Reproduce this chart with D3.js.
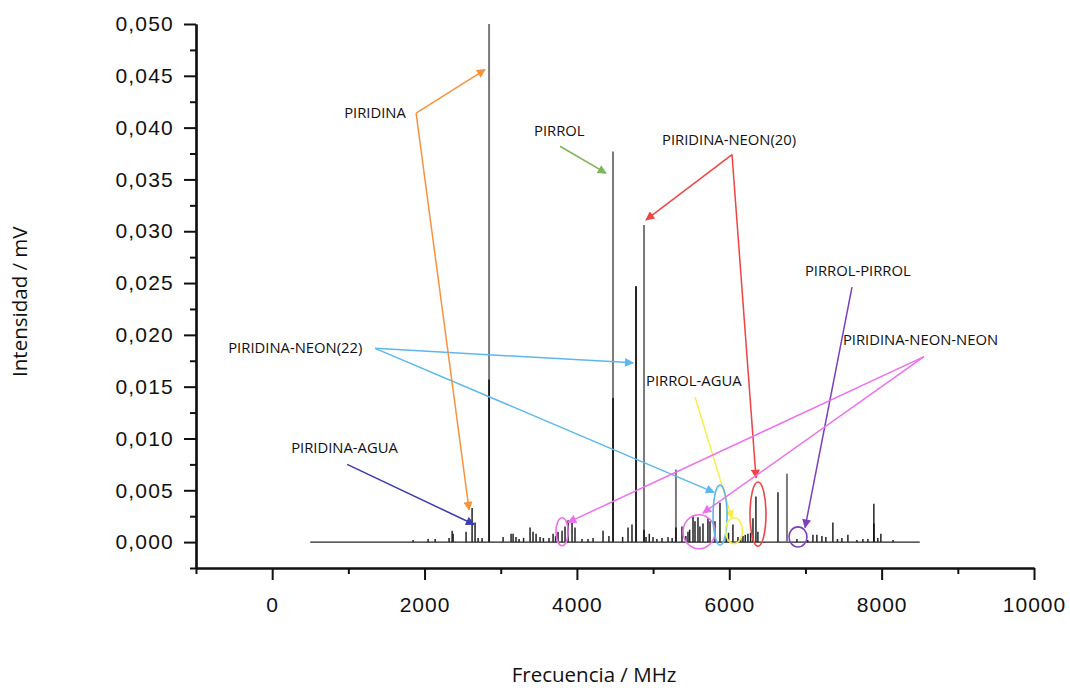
<!DOCTYPE html>
<html lang="es">
<head>
<meta charset="UTF-8">
<title>Espectro</title>
<style>
  body { margin: 0; background: #fff; }
  .tick-label { font-family: "Liberation Sans", Arial, sans-serif; font-size: 21px; fill: #111; }
  .axis-title { font-family: "Open Sans", sans-serif; font-size: 20.5px; fill: #111; }
  .note { font-family: "Open Sans", sans-serif; font-size: 14.8px; fill: #111; }
</style>
</head>
<body>
<svg id="chart" width="1070" height="691"></svg>
<script src="https://d3js.org/d3.v7.min.js"></script>
<script>
// stick spectrum: frequency (MHz) and intensity (mV)
const peakFreq = [1850, 2047, 2139, 2322, 2362, 2375, 2545, 2624, 2663, 2703, 2755, 2847,
  3031, 3136, 3162, 3200, 3241, 3300, 3385, 3424, 3464, 3516, 3560, 3634, 3687, 3720, 3752, 3805, 3844, 3884, 3936, 3975,
  4067, 4146, 4212, 4343, 4420, 4474, 4600, 4671, 4723, 4776, 4881, 4907, 4950, 4999, 5050, 5117, 5196, 5250, 5300, 5379, 5430, 5458, 5480,
  5524, 5550, 5589, 5615, 5655, 5720, 5747, 5812, 5878, 5960, 5990, 6048, 6114, 6150, 6180, 6210, 6245, 6280, 6311, 6350, 6376,
  6639, 6757, 6888, 7030, 7098, 7150, 7216, 7268, 7360, 7420, 7478, 7557, 7675, 7754, 7820, 7898, 7950, 7990, 8150];
const peakInt = [0.0002, 0.0003, 0.0003, 0.0004, 0.0011, 0.0008, 0.0010, 0.0033, 0.0019, 0.0004, 0.0004, 0.0500,
  0.0005, 0.0008, 0.0008, 0.0005, 0.0003, 0.0004, 0.0014, 0.0010, 0.0008, 0.0005, 0.0004, 0.0004, 0.0008, 0.0006, 0.0010, 0.0011, 0.0015, 0.0021, 0.0019, 0.0014,
  0.0003, 0.0003, 0.0004, 0.0011, 0.0006, 0.0377, 0.0005, 0.0014, 0.0017, 0.0247, 0.0306, 0.0005, 0.0008, 0.0005, 0.0003, 0.0004, 0.0005, 0.0004, 0.0070, 0.0015, 0.0006, 0.0010, 0.0012,
  0.0025, 0.0020, 0.0024, 0.0015, 0.0018, 0.0023, 0.0020, 0.0020, 0.0038, 0.0006, 0.0009, 0.0017, 0.0005, 0.0004, 0.0006, 0.0007, 0.0008, 0.0009, 0.0023, 0.0044, 0.0010,
  0.0048, 0.0066, 0.0003, 0.0002, 0.0007, 0.0007, 0.0006, 0.0005, 0.0019, 0.0003, 0.0004, 0.0007, 0.0002, 0.0003, 0.0003, 0.0037, 0.0004, 0.0008, 0.0002];

// darker inner trace on the strong lines
const darkFreq = [2847, 4474, 4776, 4881, 5300, 7898];
const darkInt = [0.0157, 0.0139, 0.0247, 0.0012, 0.0014, 0.0018];

const baseRange = [500, 8500];

const xTicks = [0, 2000, 4000, 6000, 8000, 10000];
const xMinor = [-1000, 1000, 3000, 5000, 7000, 9000];
const yTicks = d3.range(0, 0.0501, 0.005);
const yMinor = d3.range(-0.0025, 0.05, 0.005);

// annotations (data coordinates)
const noteText = ["PIRIDINA", "PIRROL", "PIRIDINA-NEON(20)", "PIRROL-PIRROL", "PIRIDINA-NEON-NEON",
  "PIRIDINA-NEON(22)", "PIRROL-AGUA", "PIRIDINA-AGUA"];
const noteFreq = [945, 3437, 5117, 6993, 7492, -577, 4907, 249];
const noteInt = [0.0413, 0.0396, 0.0387, 0.0261, 0.0194, 0.0186, 0.0154, 0.0090];

const arrowColor = ["#f7933f", "#7cb557", "#ee4444", "#ee4444", "#5cb8ec", "#5cb8ec",
  "#f5f04a", "#7b3fc0", "#ee6fee", "#ee6fee", "#3b3bb2", "#f7933f"];
const arrowFrom = [[1889, 0.0414], [3779, 0.0382], [6036, 0.0374], [6036, 0.0374], [1351, 0.0187], [1351, 0.0187],
  [5551, 0.0140], [7611, 0.0246], [8556, 0.0179], [8556, 0.0179], [984, 0.0075], [1889, 0.0414]];
const arrowTo = [[2795, 0.0456], [4382, 0.0356], [4907, 0.0311], [6351, 0.0062], [4737, 0.0173], [5800, 0.0048],
  [6036, 0.0023], [6995, 0.0014], [3884, 0.0019], [5655, 0.0028], [2651, 0.0017], [2585, 0.0031]];

const ringColor = ["#ee6fee", "#ee6fee", "#5cb8ec", "#f5f04a", "#ee4444", "#7b3fc0"];
const ringFreq = [3805, 5603, 5879, 6062, 6377, 6902];
const ringInt = [0.0010, 0.0010, 0.0026, 0.0011, 0.0027, 0.0005];
const ringFreqR = [80, 210, 92, 112, 105, 118];
const ringIntR = [0.00135, 0.00164, 0.0029, 0.00125, 0.0031, 0.00097];

const svg = d3.select("#chart");

const x = d3.scaleLinear().domain([-1000, 10000]).range([196, 1034]);
const y = d3.scaleLinear().domain([-0.0025, 0.05]).range([568, 24]);

// axes
const axisX = svg.append("g").attr("transform", "translate(0," + y(-0.0025) + ")");
axisX.call(d3.axisBottom(x).tickValues(xTicks).tickSize(12).tickSizeOuter(0).tickFormat(d => d));
axisX.append("g").call(d3.axisBottom(x).tickValues(xMinor).tickSize(6).tickSizeOuter(0).tickFormat(""));
axisX.selectAll(".domain").attr("stroke-width", 2.2).attr("stroke", "#111");
axisX.selectAll(".tick line").attr("stroke-width", 2).attr("stroke", "#111");
axisX.selectAll(".tick text").attr("class", "tick-label").attr("y", 29).attr("dy", "0.71em").attr("letter-spacing", "1px");
axisX.selectAll(".tick text").attr("font-size", null).attr("font-family", null);

const fmt = d => d3.format(".3f")(d).replace(".", ",");
const axisY = svg.append("g").attr("transform", "translate(" + x(-1000) + ",0)");
axisY.call(d3.axisLeft(y).tickValues(yTicks).tickSize(12).tickSizeOuter(0).tickFormat(fmt));
axisY.append("g").call(d3.axisLeft(y).tickValues(yMinor).tickSize(6).tickSizeOuter(0).tickFormat(""));
axisY.selectAll(".domain").attr("stroke-width", 2.2).attr("stroke", "#111");
axisY.selectAll(".tick line").attr("stroke-width", 2).attr("stroke", "#111");
axisY.selectAll(".tick text").attr("class", "tick-label").attr("x", -22).attr("letter-spacing", "1.2px");
axisY.selectAll(".tick text").attr("font-size", null).attr("font-family", null);

// axis titles
svg.append("text").attr("class", "axis-title")
  .attr("x", x(4225)).attr("y", 677)
  .attr("dominant-baseline", "middle")
  .attr("text-anchor", "middle").text("Frecuencia / MHz");
svg.append("text").attr("class", "axis-title")
  .attr("transform", "translate(22," + y(0.0232) + ") rotate(-90)")
  .attr("dominant-baseline", "middle")
  .attr("text-anchor", "middle").text("Intensidad / mV");

// spectrum
const spec = svg.append("g");
spec.append("line")
  .attr("x1", x(baseRange[0])).attr("x2", x(baseRange[1]))
  .attr("y1", y(0)).attr("y2", y(0))
  .attr("stroke", "#222").attr("stroke-width", 1.2);

const peaks = peakFreq.map((f, i) => ({ f: f, v: peakInt[i] }));
spec.selectAll(".pk").data(peaks).enter().append("line")
  .attr("class", "pk")
  .attr("x1", d => x(d.f)).attr("x2", d => x(d.f))
  .attr("y1", y(0)).attr("y2", d => y(d.v))
  .attr("stroke", d => d.v > 0.005 ? "#7a7a7a" : "#222")
  .attr("stroke-width", d => d.v > 0.005 ? 2 : 1.5);

const dark = darkFreq.map((f, i) => ({ f: f, v: darkInt[i] }));
spec.selectAll(".dk").data(dark).enter().append("line")
  .attr("class", "dk")
  .attr("x1", d => x(d.f)).attr("x2", d => x(d.f))
  .attr("y1", y(0)).attr("y2", d => y(d.v))
  .attr("stroke", "#111").attr("stroke-width", 1.6);

// arrow markers
const defs = svg.append("defs");
const colors = Array.from(new Set(arrowColor));
colors.forEach((c, i) => {
  defs.append("marker")
    .attr("id", "head" + i)
    .attr("viewBox", "0 0 10 10")
    .attr("refX", 9).attr("refY", 5)
    .attr("markerUnits", "userSpaceOnUse")
    .attr("markerWidth", 10).attr("markerHeight", 9)
    .attr("orient", "auto")
    .append("path").attr("d", "M0,0 L10,5 L0,10 z").attr("fill", c);
});

const ann = svg.append("g");
const arrows = arrowFrom.map((a, i) => ({ a: a, b: arrowTo[i], c: arrowColor[i] }));
ann.selectAll(".arr").data(arrows).enter().append("line")
  .attr("class", "arr")
  .attr("x1", d => x(d.a[0])).attr("y1", d => y(d.a[1]))
  .attr("x2", d => x(d.b[0])).attr("y2", d => y(d.b[1]))
  .attr("stroke", d => d.c).attr("stroke-width", 1.5)
  .attr("marker-end", d => "url(#head" + colors.indexOf(d.c) + ")");

const rings = ringFreq.map((f, i) => ({ f: f, v: ringInt[i], rf: ringFreqR[i], rv: ringIntR[i], c: ringColor[i] }));
ann.selectAll(".ring").data(rings).enter().append("ellipse")
  .attr("class", "ring")
  .attr("cx", d => x(d.f)).attr("cy", d => y(d.v))
  .attr("rx", d => x(d.f + d.rf) - x(d.f))
  .attr("ry", d => y(0) - y(d.rv))
  .attr("fill", "none").attr("stroke", d => d.c).attr("stroke-width", 1.6);

const notes = noteText.map((t, i) => ({ t: t, f: noteFreq[i], v: noteInt[i] }));
ann.selectAll(".note").data(notes).enter().append("text")
  .attr("class", "note")
  .attr("x", d => x(d.f)).attr("y", d => y(d.v))
  .attr("dominant-baseline", "middle")
  .text(d => d.t);
</script>
</body>
</html>
